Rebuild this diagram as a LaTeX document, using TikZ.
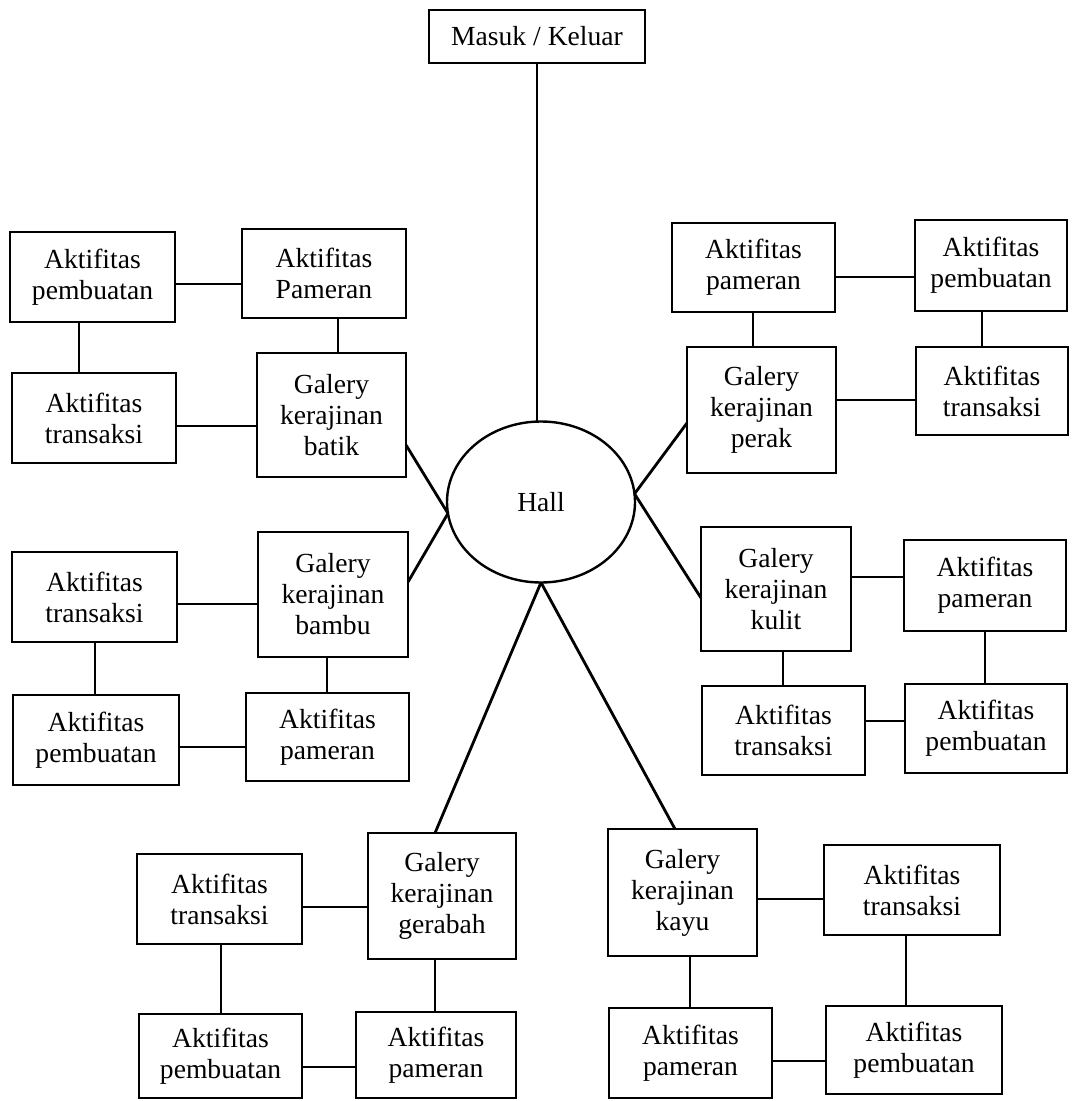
\documentclass[tikz,border=0pt]{standalone}
\usepackage{fontspec}
\setmainfont{Liberation Serif}
\usetikzlibrary{shapes.geometric}

% box from its left, top, right and bottom edges (1 unit = 0.5pt, y downwards)
\newcommand{\placebox}[6]{%
  \node[blk, minimum width={(#4-#2)*0.5pt}, minimum height={(#5-#3)*0.5pt}]
    (#1) at ({(#2+#4)/2},{(#3+#5)/2}) {#6};}

\tikzset{
  blk/.style={draw, line width=1.4pt, inner sep=0pt, outer sep=0pt, align=center,
              font=\fontsize{13.8}{15.5}\selectfont},
  link/.style={line width=1.2pt},
  spoke/.style={line width=1.4pt},
  hallshape/.style={draw, ellipse, line width=1.2pt, inner sep=0pt, outer sep=0pt,
              minimum width=94pt, minimum height=80.5pt,
              font=\fontsize{13.8}{15.5}\selectfont}
}

\begin{document}
\begin{tikzpicture}[x=0.5pt, y=-0.5pt]
\useasboundingbox (0,0) rectangle (1072,1101);

% entrance and central hall
\node[blk, line width=1pt, minimum width=108pt, minimum height=26.5pt] (masuk) at (537,36.5) {Masuk / Keluar};
\node[hallshape] (hall) at (541,502) {Hall};

% batik gallery
\placebox{bA}{10}{232}{175}{322}{Aktifitas\\pembuatan}
\placebox{bB}{242}{229}{406}{318}{Aktifitas\\Pameran}
\placebox{bC}{12}{373}{176}{463}{Aktifitas\\transaksi}
\placebox{batik}{257}{353}{406}{477}{Galery\\kerajinan\\batik}

% perak gallery
\placebox{pA}{672}{223}{835}{312}{Aktifitas\\pameran}
\placebox{pB}{915}{220}{1067}{311}{Aktifitas\\pembuatan}
\placebox{pC}{916}{347}{1068}{435}{Aktifitas\\transaksi}
\placebox{perak}{687}{347}{836}{473}{Galery\\kerajinan\\perak}

% bambu gallery
\placebox{mA}{12}{552}{177}{642}{Aktifitas\\transaksi}
\placebox{bambu}{258}{532}{408}{657}{Galery\\kerajinan\\bambu}
\placebox{mB}{13}{695}{179}{785}{Aktifitas\\pembuatan}
\placebox{mC}{246}{693}{409}{781}{Aktifitas\\pameran}

% kulit gallery
\placebox{kulit}{701}{527}{851}{651}{Galery\\kerajinan\\kulit}
\placebox{kA}{904}{540}{1066}{631}{Aktifitas\\pameran}
\placebox{kB}{702}{686}{865}{775}{Aktifitas\\transaksi}
\placebox{kC}{905}{684}{1067}{773}{Aktifitas\\pembuatan}

% gerabah gallery
\placebox{gerabah}{368}{833}{516}{959}{Galery\\kerajinan\\gerabah}
\placebox{gA}{137}{854}{302}{944}{Aktifitas\\transaksi}
\placebox{gB}{139}{1014}{302}{1098}{Aktifitas\\pembuatan}
\placebox{gC}{356}{1012}{516}{1098}{Aktifitas\\pameran}

% kayu gallery
\placebox{kayu}{608}{829}{757}{956}{Galery\\kerajinan\\kayu}
\placebox{yA}{824}{845}{1000}{935}{Aktifitas\\transaksi}
\placebox{yB}{609}{1008}{772}{1098}{Aktifitas\\pameran}
\placebox{yC}{826}{1006}{1002}{1094}{Aktifitas\\pembuatan}

% hall connections
\draw[link] (masuk.south) -- (masuk.south |- hall.north);
\draw[spoke] (hall.187) -- (batik.east |- 0,445);
\draw[spoke] (hall.187) -- (bambu.east |- 0,582);
\draw[spoke] (hall.5) -- (perak.west |- 0,423);
\draw[spoke] (hall.5) -- (kulit.west |- 0,598);
\draw[spoke] (hall.south) -- (gerabah.north -| 435,0);
\draw[spoke] (hall.south) -- (kayu.north -| 675,0);

% batik cluster
\draw[link] (bA.east |- 0,284) -- (bB.west |- 0,284);
\draw[link] (bA.south -| 79,0) -- (bC.north -| 79,0);
\draw[link] (bB.south -| 338,0) -- (batik.north -| 338,0);
\draw[link] (bC.east |- 0,426) -- (batik.west |- 0,426);

% perak cluster
\draw[link] (pA.east |- 0,277) -- (pB.west |- 0,277);
\draw[link] (pA.south -| 753,0) -- (perak.north -| 753,0);
\draw[link] (pB.south -| 982,0) -- (pC.north -| 982,0);
\draw[link] (perak.east |- 0,400) -- (pC.west |- 0,400);

% bambu cluster
\draw[link] (mA.east |- 0,604) -- (bambu.west |- 0,604);
\draw[link] (mA.south -| 95,0) -- (mB.north -| 95,0);
\draw[link] (bambu.south -| 327,0) -- (mC.north -| 327,0);
\draw[link] (mB.east |- 0,747) -- (mC.west |- 0,747);

% kulit cluster
\draw[link] (kulit.east |- 0,577) -- (kA.west |- 0,577);
\draw[link] (kulit.south -| 783,0) -- (kB.north -| 783,0);
\draw[link] (kA.south -| 985,0) -- (kC.north -| 985,0);
\draw[link] (kB.east |- 0,721) -- (kC.west |- 0,721);

% gerabah cluster
\draw[link] (gA.east |- 0,907) -- (gerabah.west |- 0,907);
\draw[link] (gA.south -| 221,0) -- (gB.north -| 221,0);
\draw[link] (gerabah.south -| 435,0) -- (gC.north -| 435,0);
\draw[link] (gB.east |- 0,1067) -- (gC.west |- 0,1067);

% kayu cluster
\draw[link] (kayu.east |- 0,899) -- (yA.west |- 0,899);
\draw[link] (kayu.south -| 690,0) -- (yB.north -| 690,0);
\draw[link] (yA.south -| 906,0) -- (yC.north -| 906,0);
\draw[link] (yB.east |- 0,1061) -- (yC.west |- 0,1061);
\end{tikzpicture}
\end{document}
